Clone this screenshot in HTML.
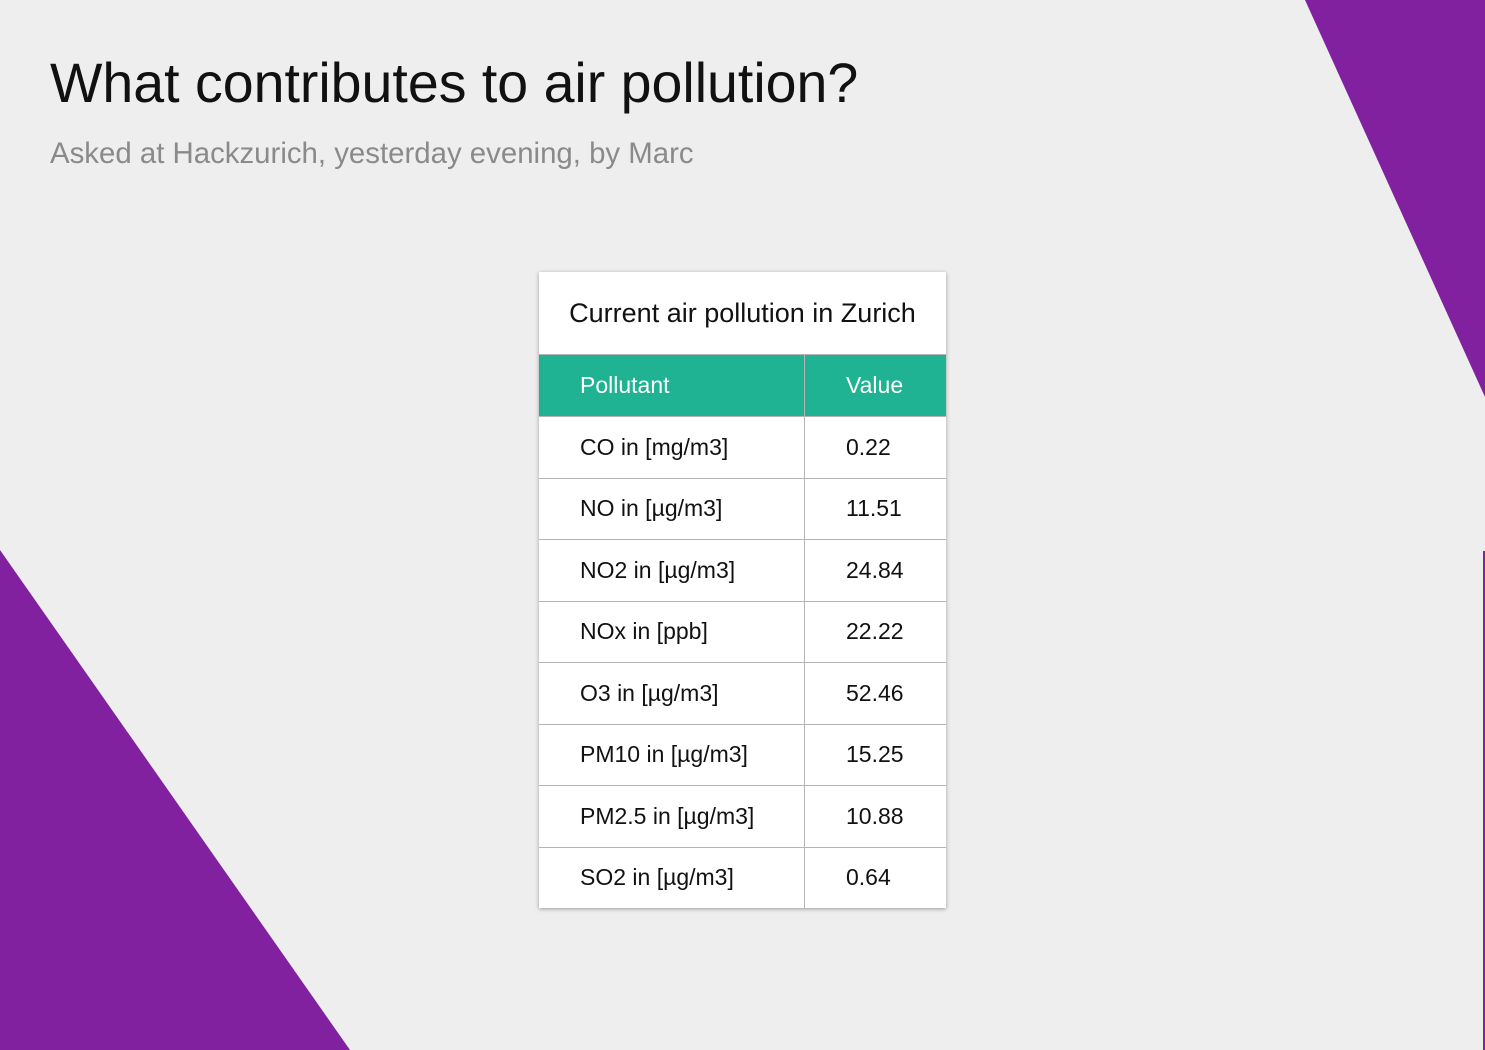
<!DOCTYPE html>
<html><head><meta charset="utf-8"><style>
body{margin:0;width:1485px;height:1050px;background:#eeeeee;position:relative;overflow:hidden;font-family:"Liberation Sans",sans-serif}
svg.bg{position:absolute;left:0;top:0}
h1{position:absolute;left:50px;top:50px;margin:0;font-weight:normal;font-size:55.5px;color:#111;line-height:66px}
.sub{position:absolute;left:50px;top:137px;font-size:29.4px;color:#8a8a8a}
.card{position:absolute;left:539px;top:272px;width:407px;background:#fff;box-shadow:0 1px 4px rgba(0,0,0,.35)}
.ttl{height:82px;line-height:82px;text-align:center;font-size:27px;color:#111}
table{border-collapse:collapse;width:407px;font-size:23px}
td,th{height:60.5px;padding:0;border:1px solid #b5b5b5;text-align:left;font-weight:normal;color:#111}
th{background:#1fb393;color:#fff;height:61px}
td:first-child,th:first-child{width:224px;padding-left:41px;border-left:none}
td:last-child,th:last-child{padding-left:41px;border-right:none}
tr:last-child td{border-bottom:none}
</style></head><body>
<svg class="bg" width="1485" height="1050">
<polygon points="1305,0 1485,0 1485,397" fill="#8121a0"/>
<polygon points="0,550 350,1050 0,1050" fill="#8121a0"/>
<rect x="1483" y="551" width="2" height="499" fill="#8121a0"/>
</svg>
<h1>What contributes to air pollution?</h1>
<div class="sub">Asked at Hackzurich, yesterday evening, by Marc</div>
<div class="card">
<div class="ttl">Current air pollution in Zurich</div>
<table>
<tr><th>Pollutant</th><th>Value</th></tr>
<tr><td>CO in [mg/m3]</td><td>0.22</td></tr>
<tr><td>NO in [µg/m3]</td><td>11.51</td></tr>
<tr><td>NO2 in [µg/m3]</td><td>24.84</td></tr>
<tr><td>NOx in [ppb]</td><td>22.22</td></tr>
<tr><td>O3 in [µg/m3]</td><td>52.46</td></tr>
<tr><td>PM10 in [µg/m3]</td><td>15.25</td></tr>
<tr><td>PM2.5 in [µg/m3]</td><td>10.88</td></tr>
<tr><td>SO2 in [µg/m3]</td><td>0.64</td></tr>
</table></div>
</body></html>
